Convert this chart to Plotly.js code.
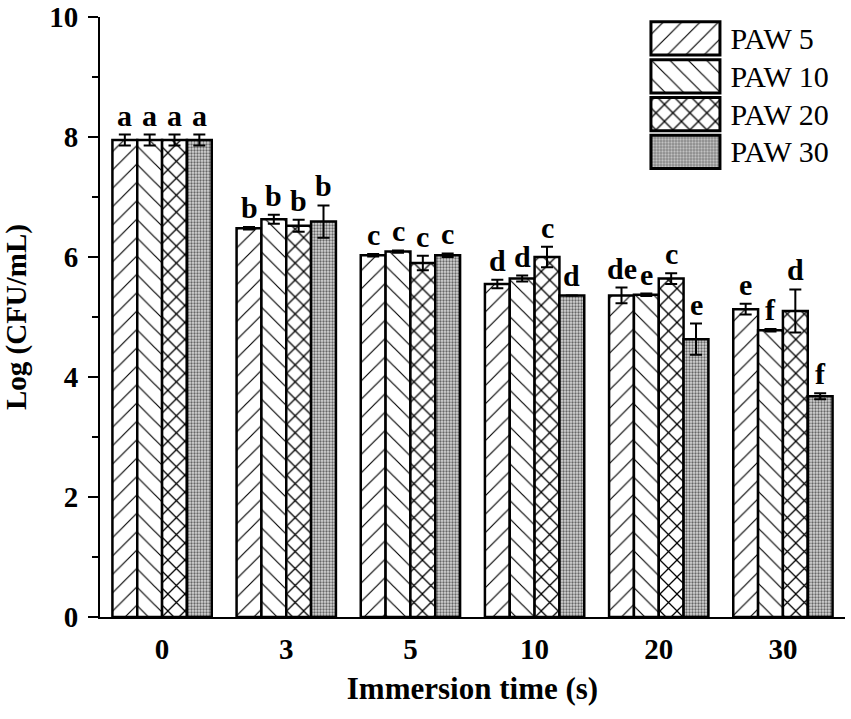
<!DOCTYPE html>
<html>
<head>
<meta charset="utf-8">
<script src="https://cdn.plot.ly/plotly-3.0.1.min.js"></script>
<style>
  html, body { margin: 0; padding: 0; background: #fff; }
  #graph { width: 851px; height: 719px; }
</style>
</head>
<body>
<div id="graph"></div>
<script>
// immersion times (x categories) and series
var times = ['0', '3', '5', '10', '20', '30'];
var names = ['PAW 5', 'PAW 10', 'PAW 20', 'PAW 30'];

var paw5 = [7.95, 6.48, 6.03, 5.55, 5.36, 5.13];
var paw5Err = [0.09, 0.02, 0.02, 0.07, 0.13, 0.09];
var paw5Letters = ['a', 'b', 'c', 'd', 'de', 'e'];

var paw10 = [7.95, 6.63, 6.09, 5.64, 5.37, 4.78];
var paw10Err = [0.09, 0.075, 0.02, 0.05, 0.02, 0.02];
var paw10Letters = ['a', 'b', 'c', 'd', 'e', 'f'];

var paw20 = [7.95, 6.52, 5.90, 6.00, 5.64, 5.10];
var paw20Err = [0.09, 0.10, 0.12, 0.17, 0.09, 0.36];
var paw20Letters = ['a', 'b', 'c', 'c', 'c', 'd'];

var paw30 = [7.95, 6.59, 6.03, 5.36, 4.63, 3.68];
var paw30Err = [0.09, 0.27, 0.03, 0, 0.26, 0.05];
var paw30Letters = ['a', 'b', 'c', 'd', 'e', 'f'];

var values = [paw5, paw10, paw20, paw30];
var errors = [paw5Err, paw10Err, paw20Err, paw30Err];
var letters = [paw5Letters, paw10Letters, paw20Letters, paw30Letters];

var serif = 'Liberation Serif, Times New Roman, serif';
var bargap = 0.2;

// hatch styles, one per series
var patterns = [
    {shape: '/', size: 13, solidity: 0.09, fgcolor: '#000', bgcolor: '#fff'},
    {shape: '\\', size: 13, solidity: 0.09, fgcolor: '#000', bgcolor: '#fff'},
    {shape: 'x', size: 12, solidity: 0.2, fgcolor: '#000', bgcolor: '#fff'},
    {shape: '.', size: 3, solidity: 0.45, fgcolor: '#666', bgcolor: '#d6d6d6'}
];

var data = [];
var annotations = [];
var slot = (1 - bargap) / names.length;

for (var k = 0; k < names.length; k++) {
    data.push({
        type: 'bar',
        x: times,
        y: values[k],
        name: names[k],
        showlegend: false,
        marker: {color: '#fff', line: {color: '#000', width: 2.5}, pattern: patterns[k]},
        error_y: {type: 'data', array: errors[k], visible: true, color: '#000', thickness: 2, width: 6},
        hoverinfo: 'skip'
    });
    for (var i = 0; i < times.length; i++) {
        annotations.push({
            x: i + (k - (names.length - 1) / 2) * slot,
            y: values[k][i] + errors[k][i],
            xref: 'x', yref: 'y',
            text: letters[k][i],
            showarrow: false,
            yanchor: 'bottom',
            yshift: 1,
            font: {family: serif, size: 30, weight: 'bold', color: '#000'}
        });
    }
}

// legend swatches drawn as a small horizontal bar subplot
data.push({
    type: 'bar',
    orientation: 'h',
    xaxis: 'x2',
    yaxis: 'y2',
    y: names,
    x: names.map(function () { return 1; }),
    width: 0.88,
    showlegend: false,
    hoverinfo: 'skip',
    marker: {
        color: '#fff',
        line: {color: '#000', width: 3},
        pattern: {
            shape: patterns.map(function (p) { return p.shape; }),
            size: patterns.map(function (p) { return p.size; }),
            solidity: patterns.map(function (p) { return p.solidity; }),
            fgcolor: patterns.map(function (p) { return p.fgcolor; }),
            bgcolor: patterns.map(function (p) { return p.bgcolor; })
        }
    }
});

var layout = {
    width: 851,
    height: 719,
    margin: {l: 100, r: 6, t: 17, b: 102},
    paper_bgcolor: '#fff',
    plot_bgcolor: '#fff',
    barmode: 'group',
    bargap: bargap,
    bargroupgap: 0,
    showlegend: false,
    font: {family: serif, color: '#000'},
    xaxis: {
        type: 'category',
        range: [-0.5, 5.5],
        showline: true, linecolor: '#000', linewidth: 2,
        showgrid: false, zeroline: false,
        ticks: '',
        ticklabelstandoff: 5,
        tickfont: {family: serif, size: 29, weight: 'bold', color: '#000'},
        title: {text: 'Immersion time (s)', standoff: 14,
            font: {family: serif, size: 31, weight: 'bold', color: '#000'}}
    },
    yaxis: {
        range: [0, 10],
        dtick: 2,
        showline: true, linecolor: '#000', linewidth: 2,
        showgrid: false, zeroline: false,
        ticks: 'outside', ticklen: 10, tickwidth: 2, tickcolor: '#000',
        minor: {dtick: 1, ticks: 'outside', ticklen: 6, tickwidth: 2, tickcolor: '#000'},
        ticklabelstandoff: 4,
        tickfont: {family: serif, size: 29, weight: 'bold', color: '#000'},
        title: {text: 'Log (CFU/mL)', standoff: 22,
            font: {family: serif, size: 29, weight: 'bold', color: '#000'}}
    },
    xaxis2: {
        domain: [0.7349, 0.8368],
        anchor: 'y2',
        range: [-0.05, 1.05],
        showgrid: false, zeroline: false, showline: false,
        showticklabels: false, ticks: ''
    },
    yaxis2: {
        domain: [0.7437, 0.9957],
        anchor: 'x2',
        side: 'right',
        type: 'category',
        autorange: 'reversed',
        tickmode: 'array',
        tickvals: names,
        ticktext: names,
        showgrid: false, zeroline: false, showline: false,
        ticks: '',
        ticklabelstandoff: 6,
        tickfont: {family: serif, size: 30, color: '#000'}
    },
    annotations: annotations
};

Plotly.newPlot('graph', data, layout, {displayModeBar: false, staticPlot: true});
</script>
</body>
</html>
